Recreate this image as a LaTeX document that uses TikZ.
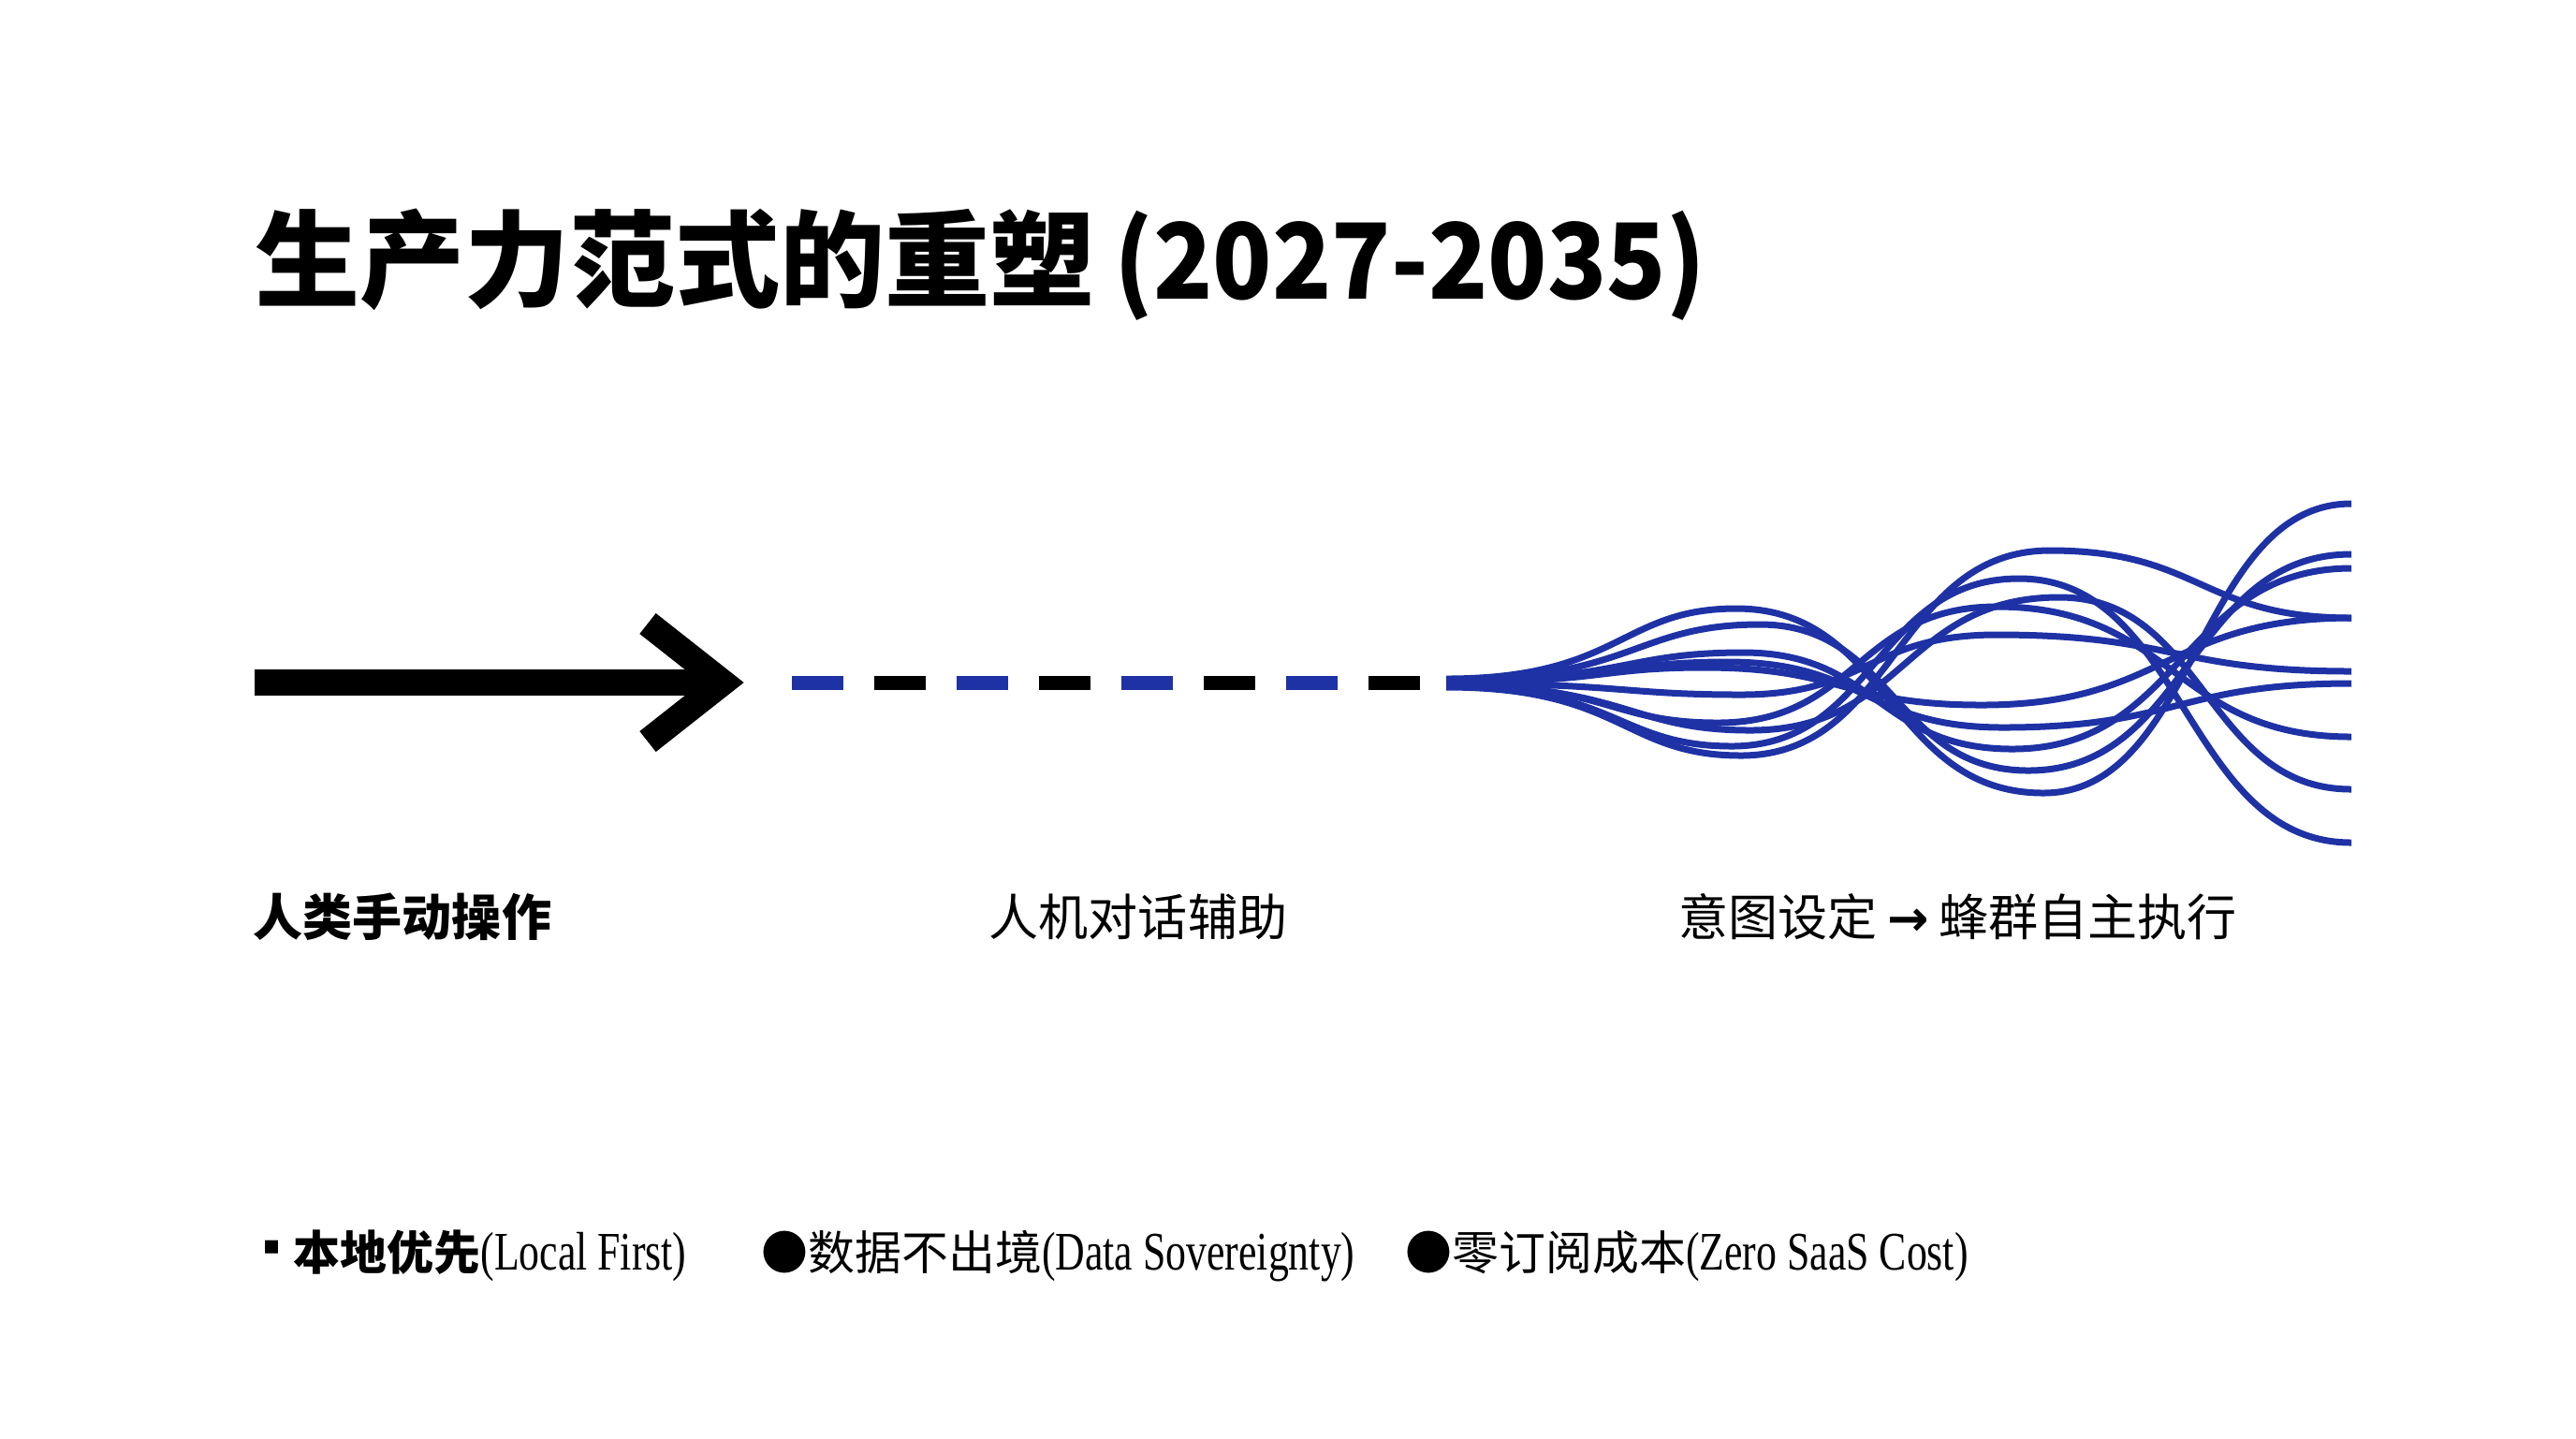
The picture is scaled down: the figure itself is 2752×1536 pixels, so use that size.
\documentclass[tikz,border=0pt]{standalone}
\usepackage{fontspec}
\newfontfamily\cjk{Noto Sans CJK SC}
\newfontfamily\cjknarrow[FakeStretch=0.93]{Noto Sans CJK SC}
\newfontfamily\latserif[FakeStretch=0.755]{Liberation Serif}
\newfontfamily\dejavu{DejaVu Sans}
\definecolor{flowblue}{RGB}{30,50,165}
\tikzset{
  shaft/.style={line width=2.8mm, black, line cap=butt},
  chevron/.style={line width=2.8mm, black, line cap=butt, line join=miter},
  dashseg/.style={line width=1.5mm, line cap=butt},
  swarm/.style={line width=0.7mm, flowblue, line cap=butt},
  titletext/.style={anchor=base west, inner sep=0pt, font=\cjk\bfseries\fontsize{31.9}{36}\selectfont},
  stagetext/.style={anchor=base west, inner sep=0pt, font=\cjk\fontsize{15.1}{18}\selectfont},
  foottext/.style={anchor=base west, inner sep=0pt, font=\cjk\fontsize{14.2}{17}\selectfont}
}
\newcommand\engpart[1]{{\latserif\fontsize{16.5}{18}\selectfont #1}}
\begin{document}
\begin{tikzpicture}[x=0.1mm,y=-0.1mm]
\useasboundingbox[fill=white] (0,0) rectangle (2752,1536);

% title
\node[titletext] (title) at (272,319) {生产力范式的重塑\hspace{6pt}{\cjknarrow (2027-2035)}};

% stage 1: solid arrow
\coordinate (shaftL) at (272,729);
\coordinate (tip) at (772,729);
\coordinate (armT) at (692,666);
\coordinate (armB) at (692,792);
\draw[shaft] (shaftL) -- (760,729);
\draw[chevron] (armT) -- (tip) -- (armB);

% stage 2: dashed conversation line
\foreach \x in {846,1022,1198,1374} \draw[dashseg, flowblue] (\x,729) -- ++(55,0);
\foreach \x in {934,1110,1286,1462} \draw[dashseg, black] (\x,729) -- ++(55,0);

% stage 3: swarm of curves
\coordinate (bundle) at (1545,729);
\foreach \ys/\xa/\ya/\xb/\yb/\yc in {
  725/1855/650/2183/847/538,
  726/1880/667/2167/823/592,
  727/1862/697/2150/800/607,
  728/1845/707/2140/777/730,
  729/1820/713/2117/753/660,
  730/1860/742/2133/678/717,
  731/1835/772/2133/648/787,
  732/1870/780/2200/638/843,
  733/1850/797/2157/618/900,
  734/1860/807/2190/588/660} {
  \pgfmathsetmacro\ca{1545+0.6*(\xa-1545)}
  \pgfmathsetmacro\cb{\xa-0.4*(\xa-1545)}
  \pgfmathsetmacro\cc{\xa+0.5*(\xb-\xa)}
  \pgfmathsetmacro\cd{\xb-0.5*(\xb-\xa)}
  \pgfmathsetmacro\ce{\xb+0.5*(2512-\xb)}
  \pgfmathsetmacro\cf{2512-0.5*(2512-\xb)}
  \draw[swarm] (1545,\ys) .. controls (\ca,\ys) and (\cb,\ya) .. (\xa,\ya)
     .. controls (\cc,\ya) and (\cd,\yb) .. (\xb,\yb)
     .. controls (\ce,\yb) and (\cf,\yc) .. (2512,\yc);
}

% stage labels
\node[stagetext, font=\cjk\bfseries\fontsize{15.1}{18}\selectfont] (s1) at (270,999) {人类手动操作};
\node[stagetext] (s2) at (1056,999) {人机对话辅助};
\node[stagetext] (s3) at (1793,999) {意图设定\hspace{3pt}{\dejavu\bfseries →}\hspace{3pt}蜂群自主执行};

% footer
\node[foottext] (f1) at (280,1356) {\raisebox{4.6pt}{\dejavu\fontsize{8}{8}\selectfont ▪}\hspace{4pt}{\bfseries 本地优先}\engpart{(Local First)}};
\node[foottext] (f2) at (813,1356) {●数据不出境\engpart{(Data Sovereignty)}};
\node[foottext] (f3) at (1501,1356) {●零订阅成本\engpart{(Zero SaaS Cost)}};
\end{tikzpicture}
\end{document}
